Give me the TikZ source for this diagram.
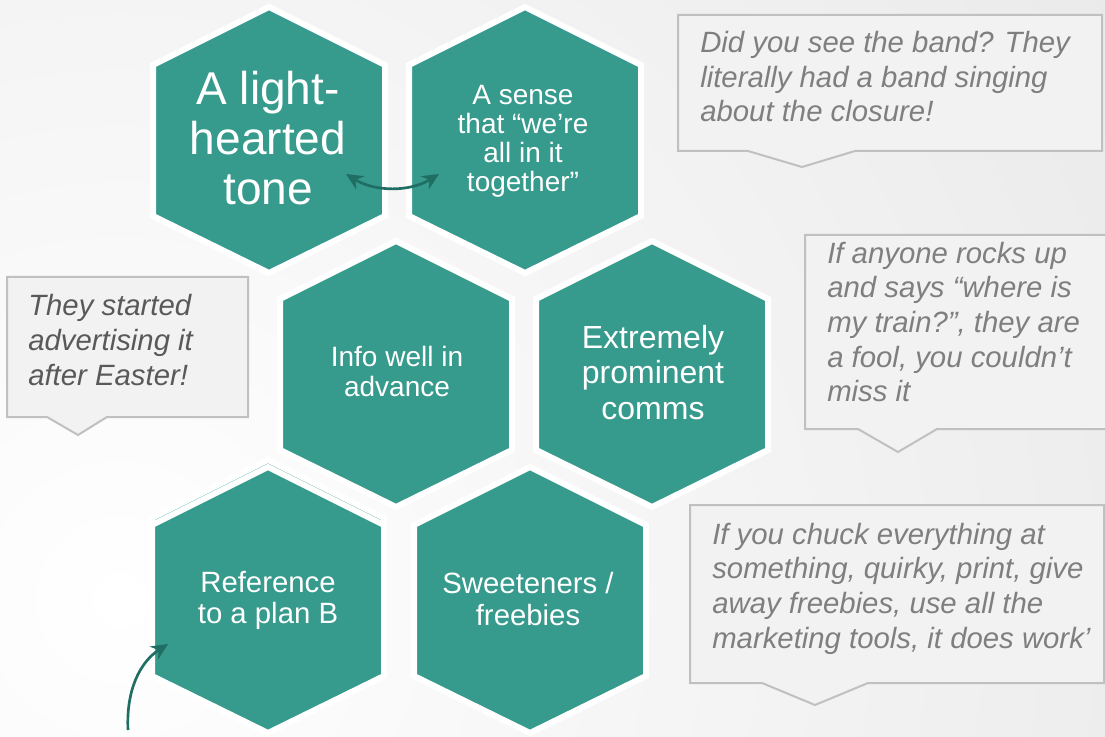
\documentclass[tikz,border=0pt]{standalone}
\usepackage{fontspec}
\setmainfont{Liberation Sans}
\usetikzlibrary{arrows.meta}

\definecolor{hexfill}{HTML}{369A8C}
\definecolor{arrowteal}{HTML}{1F6E64}
\definecolor{notefill}{HTML}{F2F2F2}
\definecolor{noteline}{HTML}{C0C0C0}
\definecolor{notetext}{HTML}{7F7F7F}
\definecolor{notedark}{HTML}{595959}
\definecolor{bgouter}{HTML}{D4D4D4}

\tikzset{
  hexcell/.style={fill=hexfill, draw=white, line width=4.5pt, line join=miter},
  hexagon/.pic={\path[hexcell] (-116,-75) -- (0,-133) -- (116,-75) -- (116,76) -- (0,133) -- (-116,76) -- cycle;},
  hexlabel/.style={text=white, align=center, inner sep=0pt, anchor=base},
  callout/.style={fill=notefill, draw=noteline, line width=1.5pt, line join=miter},
  quote/.style={text=notetext, align=left, inner sep=0pt, anchor=base west,
    font=\fontsize{22}{26}\selectfont\itshape},
  link/.style={draw=arrowteal, line width=2pt},
  tip/.style={-{Stealth[length=12.5pt,width=11.5pt]}},
  tips/.style={{Stealth[length=12.5pt,width=11.5pt]}-{Stealth[length=12.5pt,width=11.5pt]}}
}

\begin{document}
\begin{tikzpicture}[x=0.75pt,y=-0.75pt]
\useasboundingbox (0,0) rectangle (1105,737);

% soft grey backdrop, lightest towards the lower left
\begin{scope}
  \clip (0,0) rectangle (1105,737);
  \fill[bgouter] (0,0) rectangle (1105,737);
  \shade[inner color=white, outer color=bgouter] (120,600) circle (2400);
\end{scope}

% honeycomb
\pic at (269,140) {hexagon};
\pic at (525,140) {hexagon};
\pic at (396,374) {hexagon};
\pic at (652,374) {hexagon};
\pic at (268,593) {hexagon};
\pic at (268,600) {hexagon};
\pic at (530,600) {hexagon};

% labels are anchored on the baseline of their last line
\node[hexlabel, font=\fontsize{34.5}{37.5}\selectfont] (tone) at (268,205) {A light-\\hearted\\tone};
\node[hexlabel, font=\fontsize{21}{21.75}\selectfont] (together) at (523,192) {A sense\\that “we’re\\all in it\\together”};
\node[hexlabel, font=\fontsize{21}{22.5}\selectfont] (advance) at (397,397) {Info well in\\advance};
\node[hexlabel, font=\fontsize{24}{26.5}\selectfont] (comms) at (653,419) {Extremely\\prominent\\comms};
\node[hexlabel, font=\fontsize{22}{23.25}\selectfont] (planb) at (268,623) {Reference\\to a plan B};
\node[hexlabel, font=\fontsize{22}{24}\selectfont] (freebies) at (528,625) {Sweeteners /\\freebies};

% speech-bubble quotes
\path[callout] (678,15) -- (1102,15) -- (1102,151) -- (855,151) -- (802,167) -- (748,151) -- (678,151) -- cycle;
\path[callout] (7,277) -- (248,277) -- (248,417) -- (107,417) -- (78,435) -- (47,417) -- (7,417) -- cycle;
\path[callout] (805,235) -- (1108,235) -- (1108,429) -- (937,429) -- (898,452) -- (858,429) -- (805,429) -- cycle;
\path[callout] (690,505) -- (1104,505) -- (1104,683) -- (868,683) -- (815,705) -- (762,683) -- (690,683) -- cycle;

\node[quote] (band) at (700,122) {Did you see the band? They\\literally had a band singing\\about the closure!};
\node[quote, text=notedark] (easter) at (28,385) {They started\\advertising it\\after Easter!};
\node[quote] (train) at (827,402) {If anyone rocks up\\and says “where is\\my train?”, they are\\a fool, you couldn’t\\miss it};
\node[quote] (chuck) at (712,648) {If you chuck everything at\\something, quirky, print, give\\away freebies, use all the\\marketing tools, it does work’};

% connectors
\coordinate (toneTip) at (346,174);
\coordinate (togetherTip) at (439,174);
\draw[link, tips] (toneTip) .. controls (375,192) and (410,192) .. (togetherTip);

\coordinate (planTail) at (128,730);
\coordinate (planTip) at (168,644);
\draw[link, tip] (planTail) .. controls (126,690) and (140,662) .. (planTip);
\end{tikzpicture}
\end{document}
